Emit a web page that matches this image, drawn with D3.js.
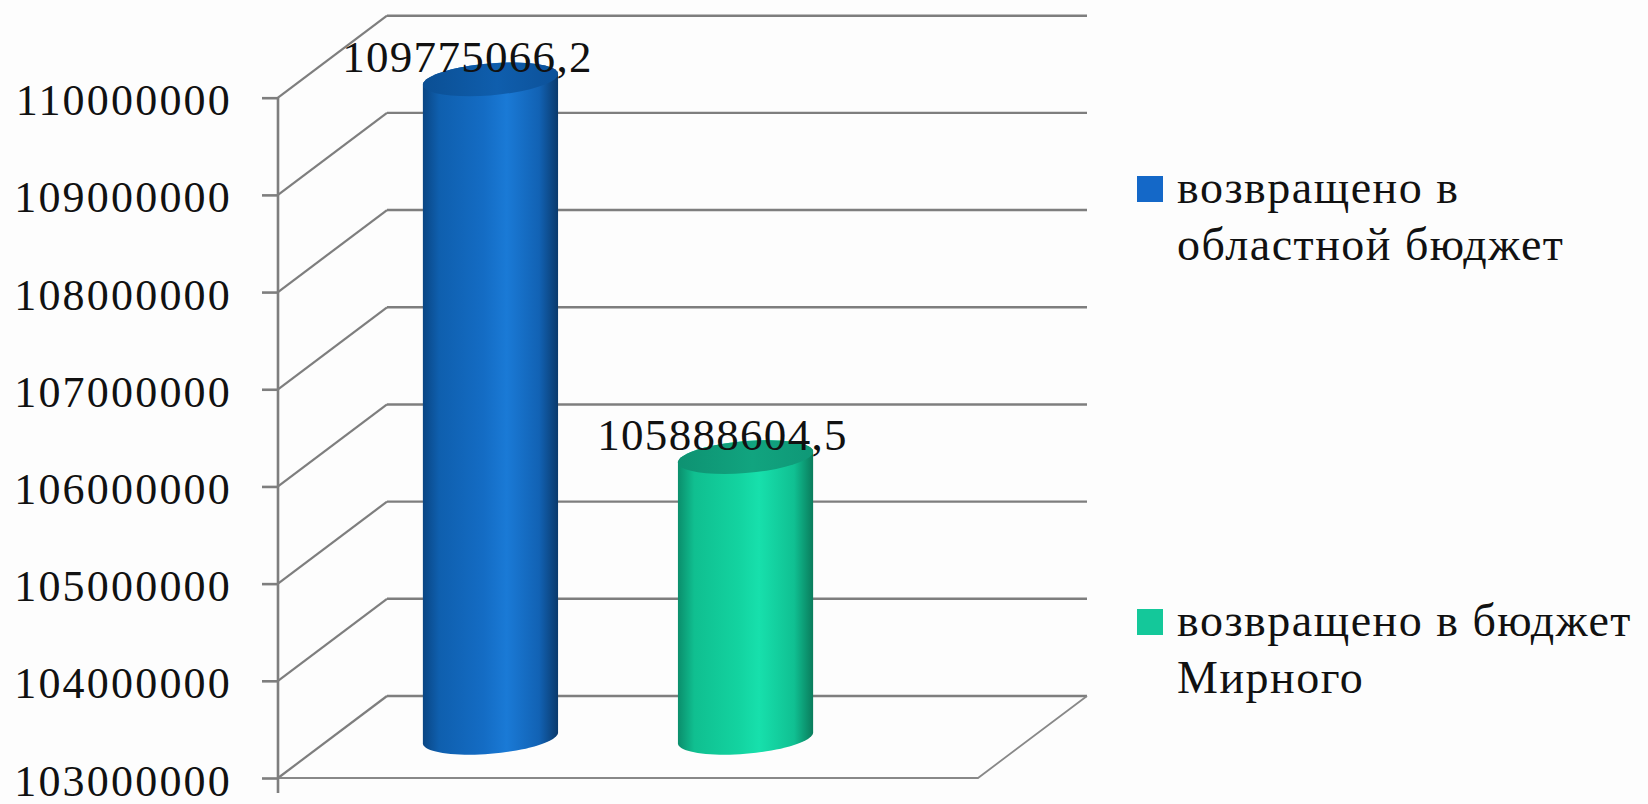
<!DOCTYPE html>
<html>
<head>
<meta charset="utf-8">
<script src="https://cdn.jsdelivr.net/npm/d3@7"></script>
<style>
  body { margin: 0; background: #fdfdfd; }
  svg { display: block; }
  text { font-family: "Liberation Serif", "DejaVu Serif", serif; fill: #111; }
</style>
</head>
<body>
<div id="chart"></div>
<script>
// Data
const seriesNames = ["возвращено в областной бюджет", "возвращено в бюджет Мирного"];
const legendLines = [["возвращено в", "областной бюджет"], ["возвращено в бюджет", "Мирного"]];
const values = [109775066.2, 105888604.5];
const valueLabels = ["109775066,2", "105888604,5"];
const yTicks = [103000000, 104000000, 105000000, 106000000, 107000000, 108000000, 109000000, 110000000];
const colors = ["#1468c8", "#14c89a"];

const width = 1648, height = 804;

// plot box (front plane) + depth offset of the 3d box
const x0 = 278, x1 = 978;
const depth = {dx: 109, dy: -82};
const barDepth = 0.49;          // cylinders sit roughly in the middle of the box

const svg = d3.select('#chart')
    .append('svg')
    .attr('width', width)
    .attr('height', height);

const y = d3.scaleLinear()
    .domain([103000000, 110000000])
    .range([778, 97.7]);

const x = d3.scaleBand()
    .domain(seriesNames)
    .range([x0 + 25, x1 - 45])
    .paddingInner(0.47)
    .paddingOuter(0.47);

const gridColor = '#7e7e7e';

// back wall gridlines
svg.append('g')
    .selectAll('line')
    .data(yTicks).enter()
    .append('line')
    .attr('x1', x0 + depth.dx)
    .attr('x2', x1 + depth.dx)
    .attr('y1', d => y(d) + depth.dy)
    .attr('y2', d => y(d) + depth.dy)
    .style('stroke', gridColor)
    .style('stroke-width', 2.4);

// left wall diagonals
svg.append('g')
    .selectAll('line')
    .data(yTicks).enter()
    .append('line')
    .attr('x1', x0)
    .attr('x2', x0 + depth.dx)
    .attr('y1', d => y(d))
    .attr('y2', d => y(d) + depth.dy)
    .style('stroke', gridColor)
    .style('stroke-width', 2.2);

// floor front + right edge
const yBase = y(yTicks[0]);
svg.append('path')
    .attr('d', 'M' + x0 + ',' + yBase + 'L' + x1 + ',' + yBase +
        'L' + (x1 + depth.dx) + ',' + (yBase + depth.dy))
    .style('fill', 'none')
    .style('stroke', '#888')
    .style('stroke-width', 1.8);

// y axis: ticks and labels
const yAxis = svg.append('g')
    .attr('transform', 'translate(' + x0 + ',0)')
    .call(d3.axisLeft(y).tickValues(yTicks).tickSize(16).tickPadding(30)
        .tickFormat(d3.format('d')));
yAxis.select('.domain').remove();
yAxis.selectAll('.tick line').style('stroke', gridColor).style('stroke-width', 2.6);
yAxis.selectAll('.tick text')
    .attr('dy', 17)
    .style('font-family', '"Liberation Serif", "DejaVu Serif", serif')
    .style('font-size', '44px')
    .style('letter-spacing', '2.2px')
    .style('fill', '#111');

svg.append('line')
    .attr('x1', x0).attr('x2', x0)
    .attr('y1', y(110000000))
    .attr('y2', yBase + 15)
    .style('stroke', gridColor)
    .style('stroke-width', 2.6);

// gradients for cylinders
const defs = svg.append('defs');
const bodyStops = [
    [['0%', '#0a4684'], ['12%', '#0f5fae'], ['45%', '#146cc4'], ['62%', '#1a7ad6'], ['86%', '#1262b4'], ['100%', '#0a3a6c']],
    [['0%', '#0b8e6c'], ['12%', '#10bf90'], ['45%', '#13d3a0'], ['60%', '#17e0ac'], ['86%', '#10c092'], ['100%', '#0a7c5c']]
];
const capStops = [
    [['0%', '#0b4f94'], ['55%', '#0f5ead'], ['100%', '#0c5199']],
    [['0%', '#0e9272'], ['55%', '#11a47f'], ['100%', '#0f9877']]
];
bodyStops.forEach((stops, i) => {
    const g = defs.append('linearGradient').attr('id', 'body' + i);
    stops.forEach(s => g.append('stop').attr('offset', s[0]).attr('stop-color', s[1]));
});
capStops.forEach((stops, i) => {
    const g = defs.append('linearGradient').attr('id', 'cap' + i);
    stops.forEach(s => g.append('stop').attr('offset', s[0]).attr('stop-color', s[1]));
});

// cylinders
const ry = 16, tilt = 0.08;
function ellipsePoint(cx, cy, rx, t) {
    return [cx + rx * Math.cos(t), cy + ry * Math.sin(t) - tilt * rx * Math.cos(t)];
}
function arc(cx, cy, rx, t0, t1) {
    return d3.range(0, 41).map(k => ellipsePoint(cx, cy, rx, t0 + (t1 - t0) * k / 40));
}
const line = d3.line();

const bars = svg.append('g')
    .selectAll('g')
    .data(values.map((v, i) => ({v: v, name: seriesNames[i], i: i}))).enter()
    .append('g');

bars.each(function (d) {
    const g = d3.select(this);
    const rx = x.bandwidth() / 2;
    const cx = x(d.name) + rx;
    const yTop = y(d.v) + depth.dy * barDepth;
    const yBot = yBase + depth.dy * barDepth;

    const bottomFront = arc(cx, yBot, rx, Math.PI, 0);
    const topBack = arc(cx, yTop, rx, 0, -Math.PI);
    g.append('path')
        .attr('d', line(bottomFront.concat(topBack)) + 'Z')
        .style('fill', 'url(#body' + d.i + ')');

    g.append('path')
        .attr('d', line(arc(cx, yTop, rx, 0, 2 * Math.PI)) + 'Z')
        .style('fill', 'url(#cap' + d.i + ')');

    d.cx = cx;
    d.yTop = yTop;
});

// value labels
svg.append('g')
    .selectAll('text')
    .data(bars.data()).enter()
    .append('text')
    .attr('x', d => d.cx - 23)
    .attr('y', d => d.yTop - 7)
    .attr('text-anchor', 'middle')
    .style('font-size', '45px')
    .style('letter-spacing', '1.3px')
    .text((d, i) => valueLabels[i]);

// legend
const legendTop = [176, 609];
const legend = svg.append('g')
    .selectAll('g')
    .data(seriesNames).enter()
    .append('g')
    .attr('transform', (d, i) => 'translate(1137,' + legendTop[i] + ')');

legend.append('rect')
    .attr('width', 26)
    .attr('height', 26)
    .style('fill', (d, i) => colors[i]);

legend.each(function (d, i) {
    d3.select(this).selectAll('text')
        .data(legendLines[i]).enter()
        .append('text')
        .attr('x', 40)
        .attr('y', (t, j) => 27 + j * 57)
        .style('font-size', '46px')
        .style('letter-spacing', '1.5px')
        .text(t => t);
});
</script>
</body>
</html>
